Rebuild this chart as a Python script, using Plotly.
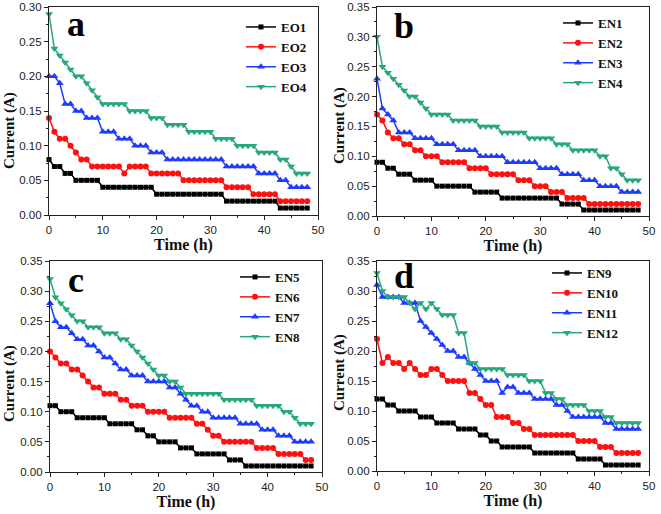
import plotly.graph_objects as go

time_h = list(range(49))

EO1 = [0.08,0.07,0.07,0.06,0.06,0.05,0.05,0.05,0.05,0.05,
       0.04,0.04,0.04,0.04,0.04,0.04,0.04,0.04,0.04,0.04,
       0.03,0.03,0.03,0.03,0.03,0.03,0.03,0.03,0.03,0.03,
       0.03,0.03,0.03,0.02,0.02,0.02,0.02,0.02,0.02,0.02,
       0.02,0.02,0.02,0.01,0.01,0.01,0.01,0.01,0.01]
EO2 = [0.14,0.12,0.11,0.11,0.10,0.09,0.08,0.08,0.07,0.07,
       0.07,0.07,0.07,0.07,0.06,0.07,0.07,0.07,0.07,0.06,
       0.06,0.06,0.06,0.06,0.06,0.05,0.05,0.05,0.05,0.05,
       0.05,0.05,0.05,0.04,0.04,0.04,0.04,0.04,0.03,0.03,
       0.03,0.03,0.03,0.02,0.02,0.02,0.02,0.02,0.02]
EO3 = [0.20,0.20,0.19,0.16,0.16,0.15,0.15,0.14,0.14,0.14,
       0.12,0.12,0.12,0.11,0.11,0.11,0.10,0.10,0.10,0.09,
       0.09,0.09,0.08,0.08,0.08,0.08,0.08,0.08,0.08,0.08,
       0.08,0.08,0.08,0.07,0.07,0.07,0.07,0.07,0.07,0.06,
       0.06,0.06,0.06,0.05,0.05,0.04,0.04,0.04,0.04]
EO4 = [0.29,0.24,0.23,0.22,0.21,0.20,0.20,0.19,0.18,0.17,
       0.16,0.16,0.16,0.16,0.16,0.15,0.15,0.15,0.15,0.14,
       0.14,0.14,0.13,0.13,0.13,0.13,0.12,0.12,0.12,0.12,
       0.12,0.11,0.11,0.11,0.11,0.10,0.10,0.10,0.10,0.09,
       0.09,0.09,0.09,0.08,0.08,0.07,0.06,0.06,0.06]

EN1 = [0.09,0.09,0.08,0.08,0.07,0.07,0.07,0.06,0.06,0.06,
       0.06,0.05,0.05,0.05,0.05,0.05,0.05,0.05,0.04,0.04,
       0.04,0.04,0.04,0.03,0.03,0.03,0.03,0.03,0.03,0.03,
       0.03,0.03,0.03,0.03,0.02,0.02,0.02,0.02,0.01,0.01,
       0.01,0.01,0.01,0.01,0.01,0.01,0.01,0.01,0.01]
EN2 = [0.17,0.16,0.14,0.13,0.13,0.12,0.12,0.11,0.11,0.10,
       0.10,0.10,0.09,0.09,0.09,0.09,0.09,0.08,0.08,0.08,
       0.08,0.07,0.07,0.07,0.07,0.07,0.06,0.06,0.06,0.05,
       0.05,0.05,0.04,0.04,0.04,0.03,0.03,0.03,0.03,0.02,
       0.02,0.02,0.02,0.02,0.02,0.02,0.02,0.02,0.02]
EN3 = [0.23,0.18,0.17,0.16,0.14,0.14,0.14,0.13,0.13,0.13,
       0.13,0.12,0.12,0.12,0.12,0.11,0.11,0.11,0.11,0.10,
       0.10,0.10,0.10,0.10,0.09,0.09,0.09,0.09,0.09,0.09,
       0.08,0.08,0.08,0.08,0.07,0.07,0.07,0.07,0.06,0.06,
       0.06,0.05,0.05,0.05,0.05,0.04,0.04,0.04,0.04]
EN4 = [0.30,0.25,0.24,0.23,0.22,0.21,0.20,0.20,0.19,0.18,
       0.17,0.17,0.17,0.17,0.16,0.16,0.16,0.16,0.16,0.15,
       0.15,0.15,0.15,0.14,0.14,0.14,0.14,0.14,0.13,0.13,
       0.13,0.13,0.13,0.12,0.12,0.12,0.11,0.11,0.11,0.11,
       0.11,0.10,0.10,0.08,0.08,0.07,0.06,0.06,0.06]

EN5 = [0.11,0.11,0.10,0.10,0.10,0.09,0.09,0.09,0.09,0.09,
       0.09,0.08,0.08,0.08,0.08,0.08,0.07,0.07,0.06,0.06,
       0.05,0.05,0.05,0.05,0.04,0.04,0.04,0.03,0.03,0.03,
       0.03,0.03,0.03,0.02,0.02,0.02,0.01,0.01,0.01,0.01,
       0.01,0.01,0.01,0.01,0.01,0.01,0.01,0.01,0.01]
EN6 = [0.20,0.19,0.18,0.18,0.17,0.17,0.16,0.15,0.14,0.14,
       0.13,0.13,0.13,0.12,0.12,0.11,0.11,0.11,0.10,0.10,
       0.10,0.10,0.09,0.09,0.09,0.09,0.09,0.08,0.08,0.07,
       0.06,0.06,0.05,0.05,0.05,0.05,0.05,0.05,0.04,0.04,
       0.04,0.04,0.03,0.03,0.03,0.03,0.03,0.02,0.02]
EN7 = [0.28,0.25,0.24,0.24,0.23,0.22,0.22,0.21,0.21,0.20,
       0.19,0.19,0.18,0.17,0.17,0.16,0.16,0.16,0.15,0.15,
       0.15,0.15,0.14,0.14,0.13,0.12,0.11,0.11,0.10,0.10,
       0.09,0.09,0.09,0.09,0.09,0.08,0.08,0.08,0.08,0.07,
       0.07,0.07,0.06,0.06,0.06,0.05,0.05,0.05,0.05]
EN8 = [0.32,0.29,0.28,0.27,0.26,0.25,0.25,0.24,0.24,0.24,
       0.23,0.23,0.23,0.22,0.22,0.21,0.20,0.19,0.18,0.17,
       0.16,0.16,0.15,0.15,0.14,0.13,0.13,0.13,0.13,0.13,
       0.13,0.13,0.12,0.12,0.12,0.12,0.12,0.12,0.11,0.11,
       0.11,0.11,0.11,0.10,0.10,0.09,0.08,0.08,0.08]

EN9 = [0.12,0.12,0.11,0.11,0.10,0.10,0.10,0.10,0.09,0.09,
       0.09,0.08,0.08,0.08,0.08,0.07,0.07,0.07,0.07,0.06,
       0.06,0.05,0.05,0.04,0.04,0.04,0.04,0.04,0.04,0.03,
       0.03,0.03,0.03,0.03,0.03,0.03,0.03,0.02,0.02,0.02,
       0.02,0.02,0.01,0.01,0.01,0.01,0.01,0.01,0.01]
EN10 = [0.22,0.18,0.19,0.18,0.18,0.17,0.18,0.17,0.16,0.16,
        0.17,0.17,0.16,0.15,0.15,0.15,0.15,0.13,0.13,0.12,
        0.11,0.11,0.09,0.09,0.09,0.08,0.08,0.07,0.07,0.06,
        0.06,0.06,0.06,0.06,0.06,0.06,0.06,0.05,0.05,0.05,
        0.05,0.04,0.04,0.04,0.03,0.03,0.03,0.03,0.03]
EN11 = [0.31,0.29,0.29,0.29,0.29,0.28,0.28,0.28,0.25,0.24,
        0.23,0.22,0.21,0.20,0.20,0.19,0.19,0.18,0.17,0.16,
        0.15,0.15,0.15,0.13,0.14,0.14,0.13,0.13,0.13,0.12,
        0.12,0.12,0.12,0.11,0.11,0.10,0.09,0.09,0.09,0.09,
        0.09,0.09,0.08,0.08,0.07,0.07,0.07,0.07,0.07]
EN12 = [0.33,0.30,0.29,0.29,0.29,0.29,0.28,0.27,0.28,0.27,
        0.28,0.27,0.26,0.26,0.26,0.23,0.23,0.18,0.18,0.17,
        0.17,0.17,0.17,0.17,0.16,0.16,0.16,0.16,0.15,0.15,
        0.15,0.13,0.13,0.12,0.12,0.11,0.11,0.11,0.11,0.10,
        0.10,0.10,0.09,0.09,0.08,0.08,0.08,0.08,0.08]

panel_letters = ["a", "b", "c", "d"]
panel_series = [
    [("EO1", EO1), ("EO2", EO2), ("EO3", EO3), ("EO4", EO4)],
    [("EN1", EN1), ("EN2", EN2), ("EN3", EN3), ("EN4", EN4)],
    [("EN5", EN5), ("EN6", EN6), ("EN7", EN7), ("EN8", EN8)],
    [("EN9", EN9), ("EN10", EN10), ("EN11", EN11), ("EN12", EN12)],
]
y_max = [0.30, 0.35, 0.35, 0.35]
y_title = "Current (A)"
x_title = "Time (h)"

W, H = 661, 514


def fx(px):
    return min(1.0, max(0.0, px / W))


def fy(py):
    return min(1.0, max(0.0, 1 - py / H))


colors = ["#000000", "#FF1010", "#1F3BFF", "#25A87A"]
symbols = ["square", "circle", "triangle-up", "triangle-down"]
msizes = [5, 6, 7, 7]

# plot area boxes in page pixels (left, right, top, bottom)
boxes = [(49, 318, 7, 215), (377, 649, 7, 216), (50, 322, 261, 472), (377, 649, 261, 471)]
legend_pos = [(241, 12), (558, 8), (235, 262), (547, 258)]
label_pos = [(76, 24), (404, 26), (76, 280), (404, 276)]
ytitle_pos = [(9, 131), (339, 126), (9, 384), (339, 373)]

fig = go.Figure()
SERIF = "Liberation Serif, Times New Roman, serif"
SANS = "Liberation Sans, Arial, sans-serif"

for p in range(4):
    ax = "" if p == 0 else str(p + 1)
    lg = "legend" if p == 0 else "legend" + str(p + 1)
    for k, (name, vals) in enumerate(panel_series[p]):
        fig.add_trace(go.Scatter(
            x=time_h, y=vals, name=name, mode="lines+markers",
            xaxis="x" + ax, yaxis="y" + ax, legend=lg,
            line=dict(color=colors[k], width=1.5),
            marker=dict(symbol=symbols[k], size=msizes[k], color=colors[k]),
            cliponaxis=False,
        ))
    l, r, t, b = boxes[p]
    common = dict(
        showline=True, linecolor="#222", linewidth=1.2, mirror=True,
        ticks="outside", ticklen=4, tickwidth=1, tickcolor="#222",
        showgrid=False, zeroline=False, automargin=False,
        tickfont=dict(family=SANS, size=11.5, color="#222"),
    )
    fig.update_layout(**{
        "xaxis" + ax: dict(
            domain=[fx(l), fx(r)], range=[0, 50], dtick=10, anchor="y" + ax,
            minor=dict(ticks="outside", ticklen=2, dtick=5, tickcolor="#222"),
            title=dict(text=x_title, font=dict(family=SERIF, size=16, color="#111", weight="bold"), standoff=2),
            **common),
        "yaxis" + ax: dict(
            domain=[fy(b), fy(t)], range=[0, y_max[p]], dtick=0.05, tickformat=".2f", anchor="x" + ax,
            minor=dict(ticks="outside", ticklen=2, dtick=0.025, tickcolor="#222"),
            **common),
        lg: dict(
            x=fx(legend_pos[p][0]), y=fy(legend_pos[p][1]), xanchor="left", yanchor="top",
            bgcolor="rgba(0,0,0,0)", borderwidth=0, tracegroupgap=0,
            font=dict(family=SERIF, size=13, color="#111", weight="bold"),
        ),
    })
    fig.add_annotation(
        x=fx(label_pos[p][0]), y=fy(label_pos[p][1]), xref="paper", yref="paper",
        text=panel_letters[p], showarrow=False, xanchor="center", yanchor="middle",
        font=dict(family=SERIF, size=36, color="#000", weight="bold"),
    )
    fig.add_annotation(
        x=fx(ytitle_pos[p][0]), y=fy(ytitle_pos[p][1]), xref="paper", yref="paper",
        text=y_title, textangle=-90, showarrow=False, xanchor="center", yanchor="middle",
        font=dict(family=SERIF, size=15, color="#111", weight="bold"),
    )

fig.update_layout(
    width=W, height=H, margin=dict(l=0, r=0, t=0, b=0, autoexpand=False),
    paper_bgcolor="white", plot_bgcolor="white", showlegend=True,
)
fig.write_html("out.html", config={"displayModeBar": False},
               post_script="document.body.style.margin='0px';")
